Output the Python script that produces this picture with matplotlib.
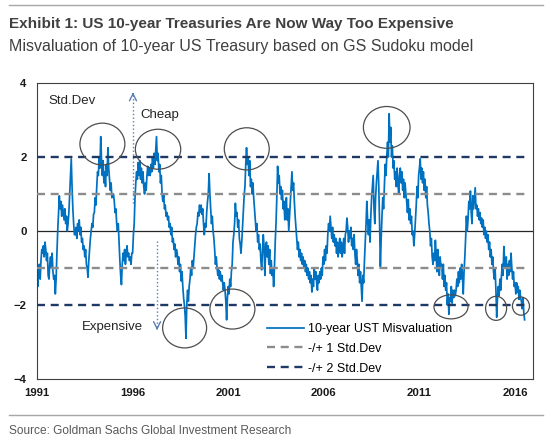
import numpy as np
import matplotlib
matplotlib.use('Agg')
import matplotlib.pyplot as plt
from matplotlib.lines import Line2D
from matplotlib.patches import Ellipse

plt.rcParams['font.family'] = ['Liberation Sans', 'DejaVu Sans']

# misvaluation in std devs, 24 readings a year from Jan 1991
v1991_1995 = [
    -1.2, -1.5, -1.1, -0.9, -1.3, -0.8, -0.5, -0.6, -0.4, -0.7, -0.3, -0.5,
    -0.8, -0.6, -1.2, -1.3, -0.9, -0.7, -1.0, -0.6, -1.1, -1.3, -1.2, -1.7,
    -1.3, -0.6, 0.0, 0.5, 0.95, 0.6, 0.8, 0.4, 0.7, 0.5, 0.3, 0.6,
    0.2, 0.4, 0.0, 0.2, 0.5, 1.0, 1.5, 1.95, 1.2, 0.6, 0.2, -0.1,
    -0.1, 0.1, -0.2, 0.2, 0.0, 0.3, -0.1, 0.1, -0.3, -0.2, -0.5, -0.4,
    -0.7, -0.5, -0.9, -1.0, -1.25, -0.8, -0.5, -0.2, 0.0, 0.2, 0.1, 0.45,
    0.5, 0.9, 0.7, 1.2, 1.6, 1.5, 2.0, 1.7, 2.55, 1.9, 1.5, 1.9,
    1.3, 1.6, 1.2, 1.8, 1.5, 2.25, 1.7, 1.4, 1.1, 1.3, 0.9, 1.0,
    1.0, 0.8, 0.5, 0.6, 0.2, 0.0, 0.2, -0.3, -0.8, -1.2, -1.45, -0.9,
    -0.6, -0.8, -0.5, -0.9, -0.6, -0.4, -0.7, -0.6, -0.8, -0.7, -0.9, -0.6,
]
v1996_2000 = [
    -0.6, -0.1, 0.2, 0.9, 1.3, 1.6, 1.4, 1.85, 1.5, 1.9, 1.4, 1.7,
    1.3, 1.6, 1.2, 1.0, 1.3, 1.1, 1.5, 1.75, 1.5, 1.7, 1.5, 1.8,
    1.6, 2.0, 1.7, 2.1, 1.8, 2.2, 2.55, 1.9, 2.1, 1.6, 1.8, 1.3,
    1.5, 1.0, 0.8, 1.0, 0.6, 0.7, 0.4, 0.5, 0.3, 0.4, 0.1, 0.2,
    -0.1, 0.1, -0.3, -0.2, -0.5, -0.35, -0.7, -0.5, -0.6, -0.9, -0.7, -1.1,
    -0.9, -1.35, -1.1, -1.5, -1.8, -2.0, -2.3, -2.9, -2.0, -1.6, -1.9, -1.5,
    -1.3, -1.0, -1.2, -0.8, -1.0, -0.7, -0.4, -0.1, 0.1, 0.2, 0.5, 0.4,
    0.7, 0.5, 0.7, 0.45, 0.6, 0.2, -0.1, 0.2, 0.1, 0.5, 0.8, 1.0,
    1.55, 1.0, 0.6, 0.2, 0.4, 0.0, -0.2, -0.5, -0.9, -0.7, -1.0, -1.2,
    -1.05, -1.3, -1.1, -1.35, -1.2, -1.4, -1.6, -1.4, -1.6, -1.9, -2.4, -1.8,
]
v2001_2005 = [
    -1.5, -1.7, -1.3, -1.5, -1.1, -0.9, -0.3, -0.1, 0.2, 0.75, 0.4, 0.5,
    0.1, 0.3, -0.2, -0.35, -0.6, -0.3, 0.1, 0.5, 0.95, 1.2, 1.8, 2.25,
    1.8, 2.0, 1.5, 1.9, 1.2, 1.4, 1.0, 1.3, 0.9, 0.6, 0.3, 0.0,
    0.2, -0.3, -0.1, -0.5, -0.35, -0.8, -1.05, -0.6, -0.1, -0.4, -1.2, -0.5,
    -0.3, -0.7, -0.4, -0.9, -0.5, -1.15, -0.8, -1.2, -1.0, -1.5, -1.0, -0.3,
    0.2, 0.9, 1.75, 1.3, 1.5, 1.0, 1.2, 0.85, 1.1, 0.6, 0.8, 0.3,
    0.5, 0.9, 0.3, 0.6, 0.0, 0.4, 0.8, 1.2, 1.6, 1.1, 1.3, 0.8,
    0.4, 0.1, -0.2, -0.5, -0.3, -0.7, -0.5, -0.8, -0.6, -0.9, -0.7, -1.0,
    -0.8, -1.1, -0.9, -1.2, -1.0, -1.3, -1.1, -1.4, -1.2, -1.65, -1.3, -1.5,
    -1.0, -1.3, -1.1, -1.4, -1.6, -1.2, -1.4, -1.1, -1.3, -1.0, -1.2, -0.7,
]
v2006_2010 = [
    -0.9, -0.5, -0.8, -0.4, -0.6, -0.1, 0.2, 0.0, 0.4, 0.1, -0.2, 0.1,
    -0.3, -0.1, -0.4, -0.2, -0.6, -0.3, -0.7, -0.4, -0.2, -0.6, -0.3, -0.7,
    -0.5, -0.2, -0.6, -0.1, 0.0, 0.35, 0.1, -0.3, 0.0, -0.2, 0.1, -0.4,
    -0.2, -0.5, -0.1, -0.6, -0.9, -0.5, -0.8, -1.2, -0.9, -1.4, -1.1, -1.5,
    -1.9, -1.2, -1.4, -0.8, -0.3, 0.2, 0.8, 0.3, -0.1, 0.3, -0.3, 0.4,
    0.9, 1.2, 1.5, 0.6, 0.2, 0.9, 1.3, 1.6, 1.9, 1.2, 0.2, -0.96,
    -0.2, 0.4, 0.9, 0.6, 1.2, 1.8, 1.5, 2.0, 2.4, 2.0, 3.17, 2.4,
    2.8, 2.0, 2.3, 1.7, 1.9, 1.4, 1.6, 1.2, 1.7, 1.3, 1.0, 1.5,
    1.7, 1.3, 1.6, 1.1, 1.4, 0.9, 1.3, 1.0, 0.8, 0.5, 0.85, 0.3,
    0.6, 0.2, 0.4, -0.1, 0.0, -0.4, -0.1, 0.3, 0.7, 1.2, 0.9, 1.5,
]
v2011_2016 = [
    1.7, 1.95, 1.4, 1.7, 1.3, 1.6, 1.1, 1.4, 0.9, 1.2, 0.7, 0.5,
    0.2, 0.0, -0.4, -0.2, -0.7, -0.9, -0.6, -0.8, -0.25, -0.6, -1.1, -0.5,
    -0.8, -1.2, -0.7, -1.0, -0.9, -1.3, -0.9, -1.5, -1.2, -1.6, -1.4, -2.0,
    -1.7, -2.25, -1.8, -1.9, -1.5, -1.95, -1.6, -1.8, -1.6, -1.75, -1.6, -1.3,
    -1.5, -1.1, -1.4, -1.0, -1.3, -0.9, -1.2, -1.7, -1.1, -0.7, -0.2, 0.4,
    0.0, 0.3, 0.8, 0.6, 1.08, 0.5, 0.2, 0.95, 0.6, 0.9, 1.17, 0.6,
    0.7, 0.4, 0.6, 0.3, 0.5, 0.2, 0.35, 0.1, 0.3, -0.1, 0.1, -0.2,
    0.0, -0.3, -0.1, -0.5, -0.3, -0.7, -0.5, -0.9, -0.7, -1.1, -1.3, -1.0,
    -1.6, -2.33, -1.8, -1.5, -1.75, -1.3, -1.6, -1.2, -0.9, -1.2, -0.42, -0.8,
    -1.0, -0.7, -1.3, -0.9, -1.2, -0.8, -1.1, -0.6, -1.0, -1.3, -1.1, -1.5,
    -1.4, -1.7, -1.4, -1.65, -1.5, -1.85, -1.6, -1.8, -1.9, -2.1, -1.8, -2.2,
    -2.4,
]
misvaluation = v1991_1995 + v1996_2000 + v2001_2005 + v2006_2010 + v2011_2016
dates = 1991 + np.arange(len(misvaluation)) / 24.0

xticks = [1991, 1996, 2001, 2006, 2011, 2016]
yticks = [-4, -2, 0, 2, 4]

# circled episodes: (year, std dev, width in years, height in std dev)
circles = [
    (1994.42, 2.35, 2.35, 1.13),
    (1997.33, 2.21, 2.37, 1.08),
    (1998.72, -2.62, 2.30, 1.08),
    (2001.22, -2.11, 2.35, 1.08),
    (2001.97, 2.22, 2.35, 1.14),
    (2009.29, 2.80, 2.44, 1.13),
    (2012.65, -2.05, 1.78, 0.65),
    (2015.01, -2.09, 1.10, 0.65),
    (2016.31, -2.03, 0.89, 0.49),
]

W, H = 550, 440
fig = plt.figure(figsize=(5.5, 4.4), dpi=100)
ax = fig.add_axes([37 / W, 1 - 379 / H, 496 / W, 296 / H])

ax.axhline(0, color='#262626', lw=0.9, zorder=1)
ax.plot(dates, misvaluation, color='#0070C0', lw=1.25, label='10-year UST Misvaluation', zorder=2)
ones = np.ones(len(dates))
ax.plot(dates, ones, color='#8c8c8c', lw=1.7, dashes=(3.4, 2.4), label='-/+ 1 Std.Dev', zorder=3)
ax.plot(dates, -ones, color='#8c8c8c', lw=1.7, dashes=(3.4, 2.4), zorder=3)
ax.plot(dates, 2 * ones, color='#1f3864', lw=1.7, dashes=(3.4, 2.4), label='-/+ 2 Std.Dev', zorder=3)
ax.plot(dates, -2 * ones, color='#1f3864', lw=1.7, dashes=(3.4, 2.4), zorder=3)

for cx, cy, cw, ch in circles:
    ax.add_patch(Ellipse((cx, cy), cw, ch, fill=False, ec='#4d4d4d', lw=0.9, zorder=4))

# cheap / expensive arrows
arrow_col = '#5b7db3'
ax.plot([1996.02, 1996.02], [0.76, 3.70], color=arrow_col, lw=1.0, ls=':', zorder=4)
ax.annotate('', xy=(1996.02, 3.75), xytext=(1996.02, 3.6),
            arrowprops=dict(arrowstyle='->,head_length=0.5,head_width=0.25', color=arrow_col, lw=1.0))
ax.plot([1997.28, 1997.28], [-0.27, -2.63], color=arrow_col, lw=1.0, ls=':', zorder=4)
ax.annotate('', xy=(1997.28, -2.68), xytext=(1997.28, -2.55),
            arrowprops=dict(arrowstyle='->,head_length=0.5,head_width=0.25', color=arrow_col, lw=1.0))

ax.text(1991.58, 3.51, 'Std.Dev', fontsize=9.5, va='center', color='#262626')
ax.text(1996.39, 3.14, 'Cheap', fontsize=9.5, va='center', color='#262626')
ax.text(1996.54, -2.59, 'Expensive', fontsize=9.5, va='center', ha='right', color='#262626')

ax.set_xlim(1991, 2016.94)
ax.set_ylim(-4, 4)
ax.set_xticks(xticks)
ax.set_xticklabels([str(x) for x in xticks])
ax.set_yticks(yticks)
ax.tick_params(length=0, labelsize=8.2, labelcolor='#1a1a1a')
ax.tick_params(axis='x', pad=6.8)
ax.tick_params(axis='y', pad=7.5)
for lab in ax.get_xticklabels() + ax.get_yticklabels():
    lab.set_fontweight('bold')
for s in ax.spines.values():
    s.set_color('#404040')
    s.set_linewidth(0.8)

ax.legend(loc='lower left', bbox_to_anchor=(0.4637, 0.015), frameon=False, fontsize=9,
          handlelength=3.0, handletextpad=0.3, labelspacing=0.62, borderpad=0, borderaxespad=0)

fig.add_artist(Line2D([9 / W, 543 / W], [1 - 5.3 / H] * 2, color='#a6a6a6', lw=1.0))
fig.add_artist(Line2D([9 / W, 543 / W], [1 - 414.5 / H] * 2, color='#a6a6a6', lw=1.0))
fig.text(9 / W, 1 - 28 / H, 'Exhibit 1: US 10-year Treasuries Are Now Way Too Expensive',
         weight='bold', fontsize=11.0, color='#404040', va='baseline')
fig.text(9 / W, 1 - 51 / H, 'Misvaluation of 10-year US Treasury based on GS Sudoku model',
         fontsize=11.5, color='#404040', va='baseline')
fig.text(9 / W, 1 - 434 / H, 'Source: Goldman Sachs Global Investment Research',
         fontsize=8.55, color='#595959', va='baseline')

fig.savefig('out.png', dpi=100)
